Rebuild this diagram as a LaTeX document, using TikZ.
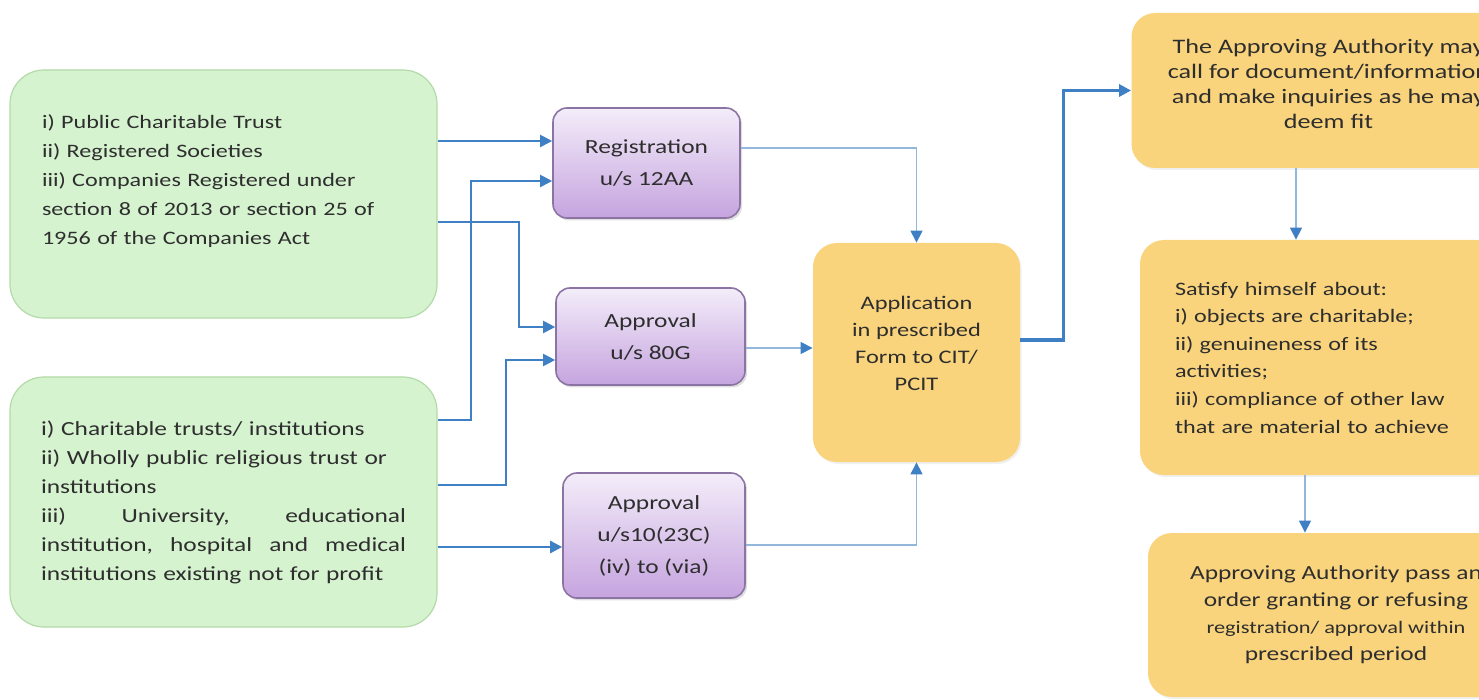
\documentclass[tikz,border=0pt]{standalone}
\usepackage{fontspec}
\setmainfont{Carlito}[FakeStretch=1.27]
\usetikzlibrary{arrows.meta,shadows}
\definecolor{greenfill}{HTML}{D6F3D0}
\definecolor{greenline}{HTML}{B3DAA8}
\definecolor{purpletop}{HTML}{F3EDF9}
\definecolor{purplebot}{HTML}{C6A4DF}
\definecolor{purpleline}{HTML}{8B74A3}
\definecolor{orangefill}{HTML}{F9D47C}
\definecolor{flowblue}{HTML}{3F7FC4}
\definecolor{thinblue}{HTML}{93B6DB}
\definecolor{inkgrey}{HTML}{2E2E2E}
\tikzset{
  entity/.style={draw=greenline, fill=greenfill, rounded corners=17pt, line width=0.6pt,
    text=inkgrey, font=\fontsize{9.5}{14.5}\selectfont},
  section/.style={draw=purpleline, top color=purpletop, bottom color=purplebot,
    rounded corners=7pt, line width=0.8pt, align=center, text=inkgrey,
    drop shadow={opacity=0.25, shadow xshift=1pt, shadow yshift=-1.2pt},
    font=\fontsize{10}{16}\selectfont},
  stage/.style={fill=orangefill, rounded corners=12pt, align=center, text=inkgrey,
    drop shadow={opacity=0.12, shadow xshift=0.8pt, shadow yshift=-1pt},
    font=\fontsize{9.6}{13.5}\selectfont},
  flow/.style={draw=flowblue, line width=1pt, -{Triangle[width=6pt,length=6pt]}},
  feed/.style={draw=thinblue, line width=0.6pt, -{Triangle[width=6pt,length=6pt,color=flowblue]}}
}
\begin{document}
\begin{tikzpicture}[x=0.5pt, y=-0.5pt]
  \useasboundingbox (0,0) rectangle (1479,700);
  \clip (0,0) rectangle (1479,700);
  % entities
  \node [entity, text width=181.5pt, inner xsep=16pt, minimum height=124pt, align=left] (trusts) at (223.5,194)
    {i) Public Charitable Trust\\ ii) Registered Societies\\ iii) Companies Registered under\\
     section 8 of 2013 or section 25 of\\ 1956 of the Companies Act\\ \mbox{}};
  \node [entity, text width=182.5pt, inner xsep=15.5pt, minimum height=125pt, align=left,
    font=\fontsize{10}{14.5}\selectfont] (funds) at (223.5,502)
    {i) Charitable trusts/ institutions\\ ii) Wholly public religious trust or\\ institutions\\
     iii)\hfill University,\hfill educational\\ institution,\hfill hospital\hfill and\hfill medical\\
     institutions existing not for profit};
  % sections
  \node [section, minimum width=93.5pt, minimum height=55pt] (reg) at (646.5,163) {Registration\\ u/s 12AA};
  \node [section, minimum width=94.5pt, minimum height=48.5pt] (sec80) at (650.5,336.5) {Approval\\ u/s 80G};
  \node [section, minimum width=91pt, minimum height=62.5pt] (sec10) at (654,535.5) {Approval\\ u/s10(23C)\\ (iv) to (via)};
  % stages
  \node [stage, minimum width=103.5pt, minimum height=109.5pt] (apply) at (916.5,352.5)
    {Application\\ in prescribed\\ Form to CIT/\\ PCIT\\[-4.5pt]\mbox{}};
  \node [stage, minimum width=197pt, minimum height=77.5pt, font=\fontsize{10.3}{12.5}\selectfont] (call) at (1328.5,90.5)
    {The Approving Authority may\\ call for document/information\\ and make inquiries as he may\\ deem fit\\[-6pt]\mbox{}};
  \node [stage, text width=145pt, inner xsep=17.5pt, minimum height=117.5pt, align=left,
    font=\fontsize{9.5}{13.8}\selectfont] (satisfy) at (1320,357.5)
    {Satisfy himself about:\\ i) objects are charitable;\\ ii) genuineness of its\\ activities;\\
     iii) compliance of other law\\ that are material to achieve};
  \node [stage, minimum width=188pt, minimum height=82pt, font=\fontsize{10}{13.5}\selectfont] (order) at (1336,615)
    {Approving Authority pass an\\ order granting or refusing\\
     {\fontsize{8.8}{13.5}\selectfont registration/ approval within}\\ prescribed period};
  % connectors
  \draw [flow] (trusts.east |- 0,141) -- (reg.west |- 0,141);
  \draw [flow] (funds.east |- 0,420) -- ++(33,0) |- (reg.west |- 0,181);
  \draw [flow] (trusts.east |- 0,222) -- ++(81,0) |- (sec80.west |- 0,327);
  \draw [flow] (funds.east |- 0,485) -- ++(68,0) |- (sec80.west |- 0,360);
  \draw [flow, line width=1.3pt] (funds.east |- 0,547) -- (sec10.west |- 0,547);
  \draw [feed] (reg.east |- 0,148) -| (apply.north);
  \draw [feed] (sec80.east |- 0,348) -- (apply.west |- 0,348);
  \draw [feed] (sec10.east |- 0,545) -| (apply.south);
  \draw [flow, line width=1.6pt] (apply.east |- 0,340) -- ++(43,0) |- (call.west);
  \draw [feed] (call.south -| 1296,0) -- (satisfy.north -| 1296,0);
  \draw [feed] (satisfy.south -| 1305,0) -- (order.north -| 1305,0);
\end{tikzpicture}
\end{document}
